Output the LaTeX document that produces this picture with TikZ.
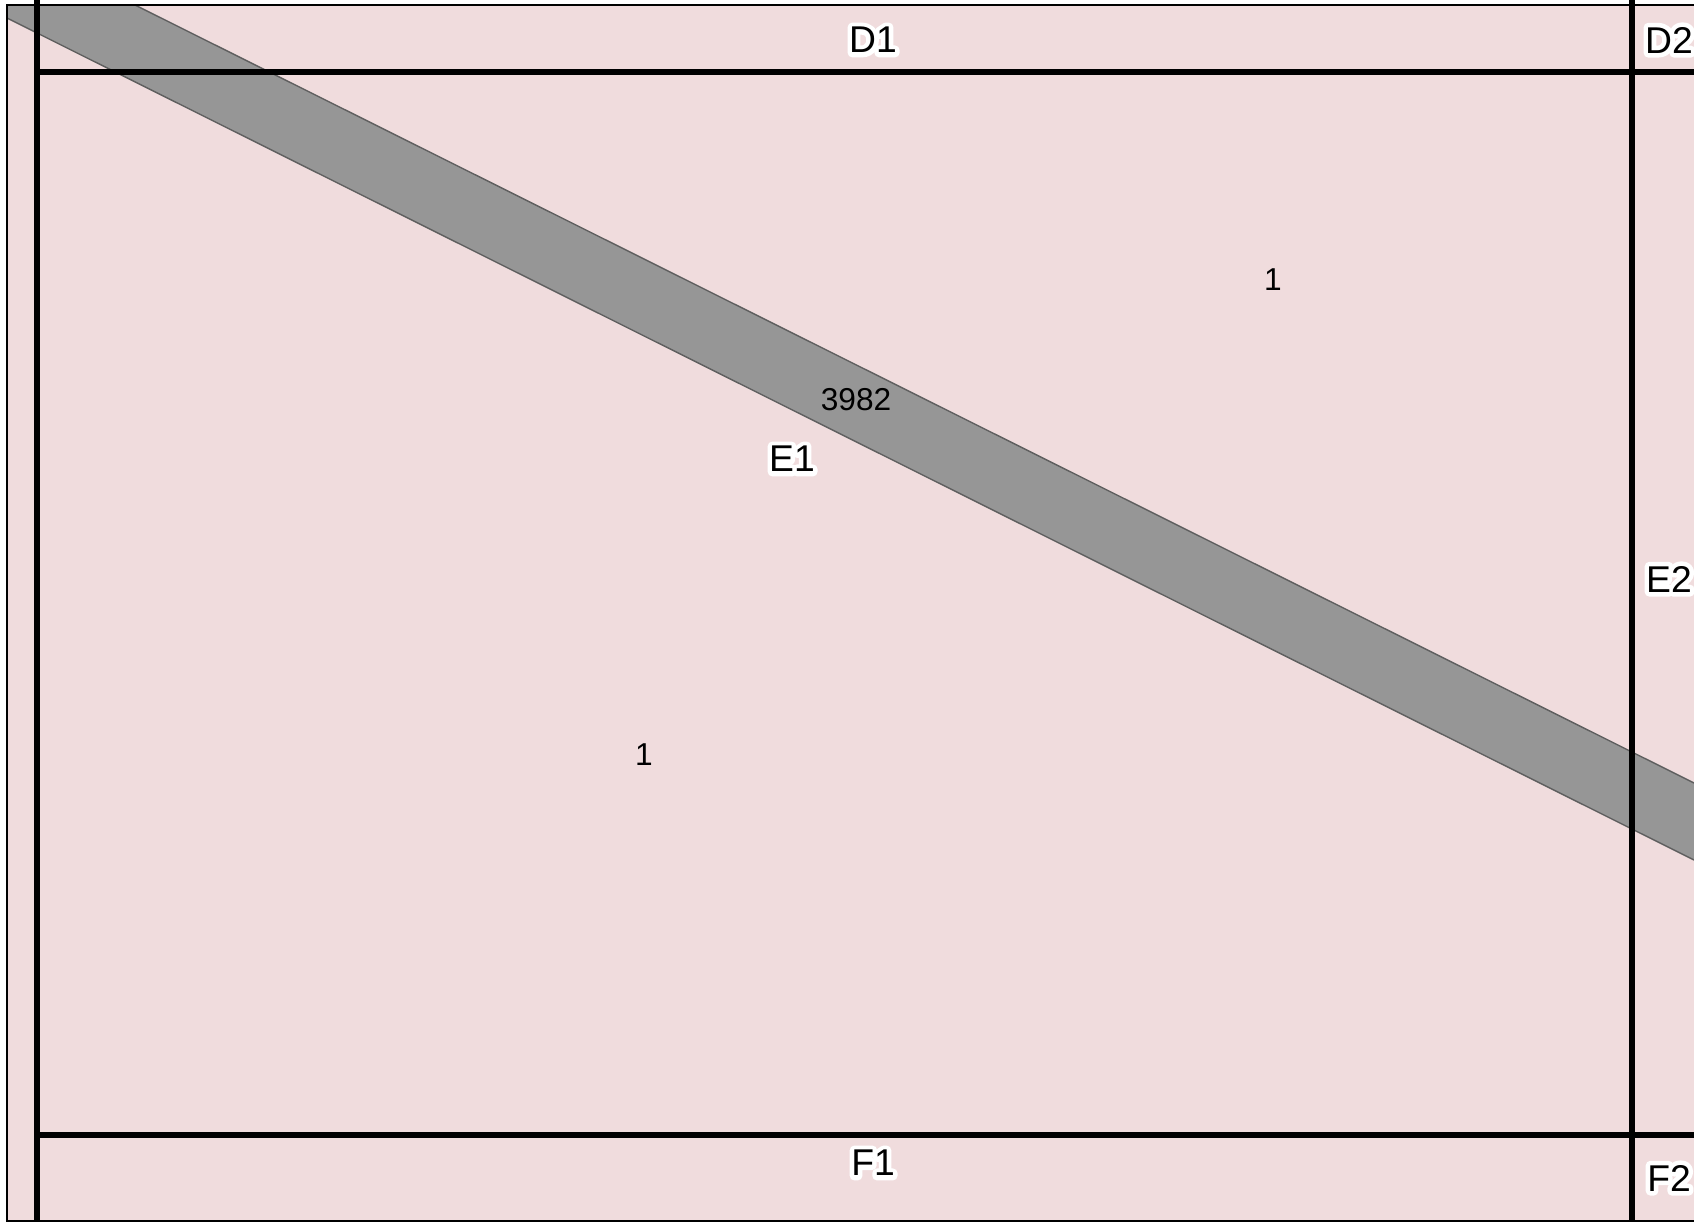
\documentclass[tikz,border=0pt]{standalone}
\usepackage{fontspec}
\setmainfont{Liberation Sans}
\definecolor{zonecolor}{HTML}{F0DCDD}
\definecolor{bandcolor}{HTML}{969696}
\definecolor{bandedgecolor}{HTML}{5F5F5F}
% white outline behind a label
\newcommand{\halotext}[1]{%
  \makebox[0pt][l]{\special{pdf:literal direct q 1 Tr 1 1 1 RG 2.6 w 1 j}#1\special{pdf:literal direct Q}}#1}

\begin{document}
\begin{tikzpicture}[x=0.01cm, y=-0.01cm,
    zonelabel/.style={font=\fontsize{10.6}{12}\selectfont, inner sep=0pt},
    countlabel/.style={font=\fontsize{9}{11}\selectfont, inner sep=0pt},
    gridline/.style={line width=1.45pt, black},
    frameline/.style={line width=0.6pt, black}]
    \useasboundingbox (0,0) rectangle (1694,1222);
    \begin{scope}
    \clip (0,0) rectangle (1694,1222);

    % Background
    \fill[zonecolor] (7,5) rectangle (1700,1221);

    % Diagonal band
    \fill[bandcolor] (7,5) -- (135,5) -- (1694,783) -- (1694,860) -- (7,18) -- cycle;
    \draw[bandedgecolor, line width=0.4pt] (135,5) -- (1694,783);
    \draw[bandedgecolor, line width=0.4pt] (7,18) -- (1694,860);

    % Grid lines
    \draw[gridline] (37,0) -- (37,1222);
    \draw[gridline] (1632,0) -- (1632,1222);
    \draw[gridline] (37,72) -- (1700,72);
    \draw[gridline] (37,1135) -- (1700,1135);

    % Frame
    \draw[frameline] (1700,5) -- (7,5) -- (7,1221) -- (1700,1221);

    % Zone labels
    \node[zonelabel] (d1) at (873,40) {\halotext{D1}};
    \node[zonelabel] (d2) at (1669,40) {\halotext{D2}};
    \node[zonelabel] (e1) at (792,459) {\halotext{E1}};
    \node[zonelabel] (e2) at (1669,579) {\halotext{E2}};
    \node[zonelabel] (f1) at (873,1163) {\halotext{F1}};
    \node[zonelabel] (f2) at (1669,1178) {\halotext{F2}};

    % Counts
    \node[countlabel] (c1) at (1273,280) {1};
    \node[countlabel] (c2) at (644,755) {1};
    \node[countlabel] (c3) at (856,400) {3982};
    \end{scope}
\end{tikzpicture}
\end{document}
